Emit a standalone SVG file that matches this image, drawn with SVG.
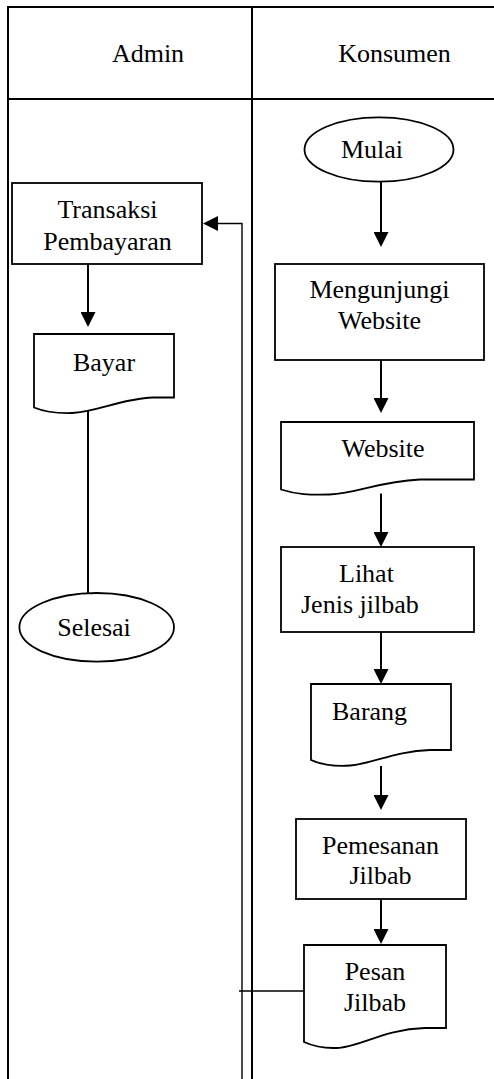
<svg xmlns="http://www.w3.org/2000/svg" width="494" height="1079" viewBox="0 0 494 1079">
<style>
text{font-family:"Liberation Serif","Times New Roman",serif;font-size:26px;fill:#000;text-anchor:middle}
.st{text-anchor:start}
.shape{fill:#fff;stroke:#000;stroke-width:1.8}
.frame{fill:none;stroke:#000;stroke-width:2}
.conn{fill:none;stroke:#000;stroke-width:2}
.thin{fill:none;stroke:#000;stroke-width:1.4}
</style>
<defs>
<marker id="ah" markerUnits="userSpaceOnUse" markerWidth="15" markerHeight="15" viewBox="0 0 15 15" refX="1" refY="7.5" orient="auto">
<path d="M0,0 L15,7.5 L0,15 Z" fill="#000"/>
</marker>
</defs>
<rect width="494" height="1079" fill="#fff"/>
<g id="lanes">
<path class="frame" d="M8,1079 V7 H494 M8,99 H494 M252,7 V1079"/>
<text x="148" y="62">Admin</text>
<text x="394.5" y="62">Konsumen</text>
</g>
<g id="connectors">
<path class="conn" d="M381,182 V233" marker-end="url(#ah)"/>
<path class="conn" d="M381,360 V399" marker-end="url(#ah)"/>
<path class="conn" d="M381,493.5 V533" marker-end="url(#ah)"/>
<path class="conn" d="M381,632 V670" marker-end="url(#ah)"/>
<path class="conn" d="M381,766 V796" marker-end="url(#ah)"/>
<path class="conn" d="M381,899 V930" marker-end="url(#ah)"/>
<path class="conn" d="M88,264 V313" marker-end="url(#ah)"/>
<path class="conn" d="M88,407 V593"/>
<path class="thin" d="M304,991 H239"/>
<path class="thin" d="M242,1079 V223.5 H217" marker-end="url(#ah)"/>
</g>
<g id="mulai">
<ellipse class="shape" cx="379" cy="149.5" rx="74.5" ry="32.2"/>
<text x="372" y="158">Mulai</text>
</g>
<g id="mengunjungi">
<rect class="shape" x="275" y="264" width="209" height="96"/>
<text x="379.5" y="298">Mengunjungi</text>
<text x="379.5" y="329">Website</text>
</g>
<g id="website">
<path class="shape" d="M281,489.5 L281,422 L474,422 L474,479.5 L420,479.5 C377.5,481.5 358.2,493.5 329.3,494.5 C310,495 296.4,494.5 281,489.5 Z"/>
<text x="383" y="457">Website</text>
</g>
<g id="lihat">
<rect class="shape" x="281" y="547" width="193" height="85"/>
<text class="st" x="339" y="582">Lihat</text>
<text class="st" x="301" y="613">Jenis jilbab</text>
</g>
<g id="barang">
<path class="shape" d="M311,760 L311,684 L451,684 L451,750 L430,750 C395,751 372,764 350,765.5 C335,766.5 322,765 311,760 Z"/>
<text class="st" x="332" y="720">Barang</text>
</g>
<g id="pemesanan">
<rect class="shape" x="296" y="819" width="170" height="80"/>
<text x="380.5" y="854">Pemesanan</text>
<text x="380.5" y="884">Jilbab</text>
</g>
<g id="pesan">
<path class="shape" d="M304,1042 L304,945 L446,945 L446,1028 L424.7,1028 C385,1029 362,1046 339.5,1047.8 C325,1048.8 315,1047 304,1042 Z"/>
<text x="375" y="980">Pesan</text>
<text x="375" y="1011">Jilbab</text>
</g>
<g id="transaksi">
<rect class="shape" x="12" y="183" width="190" height="81"/>
<text x="107.5" y="218">Transaksi</text>
<text x="107.5" y="250">Pembayaran</text>
</g>
<g id="bayar">
<path class="shape" d="M34,407.5 L34,334 L174,334 L174,397.5 L153,397.5 C122,398.5 96,412 72,413 C55,413.5 45,412 34,407.5 Z"/>
<text x="104" y="371">Bayar</text>
</g>
<g id="selesai">
<ellipse class="shape" cx="96.7" cy="627.3" rx="77.3" ry="34.3"/>
<text x="94" y="636">Selesai</text>
</g>
</svg>
